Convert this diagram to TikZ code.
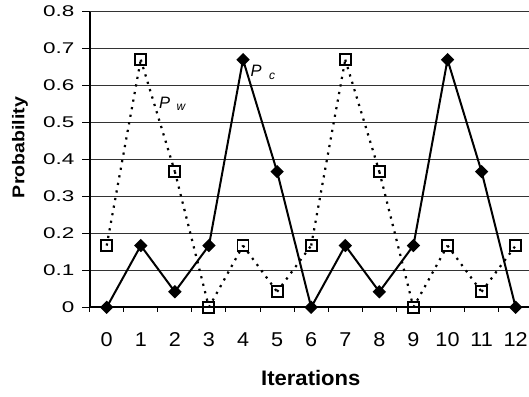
\documentclass[tikz,border=0pt]{standalone}
\usepackage{fontspec}
\setmainfont{Liberation Sans}
\newfontfamily\tickyfont[FakeStretch=1.45]{Liberation Sans}
\newfontfamily\tickxfont[FakeStretch=1.08]{Liberation Sans}
\newfontfamily\xtitlefont[FakeStretch=1.05]{Liberation Sans}
\newfontfamily\ytitlefont[FakeStretch=1.15]{Liberation Sans}
\usetikzlibrary{
    shapes.geometric,
    positioning
}

\begin{document}
\begin{tikzpicture}[x=1pt, y=1pt,
    gridline/.style={black!80, line width=1pt},
    axisline/.style={black, line width=2.2pt},
    cline/.style={black, line width=2pt},
    wline/.style={black, line width=2.2pt, dash pattern=on 2.2pt off 5.5pt},
    cmark/.style={diamond, fill=black, inner sep=0pt, minimum size=13.5pt},
    wmark/.style={draw=black, line width=1.9pt, inner sep=0pt, minimum size=11pt},
    ylab/.style={anchor=east, inner sep=0pt, font=\tickyfont\fontsize{15.5}{16}\selectfont},
    xlab/.style={anchor=base, inner sep=0pt, font=\tickxfont\fontsize{20}{22}\selectfont}]
    \useasboundingbox (0,0) rectangle (529,396);
    \clip (0,0) rectangle (529,396);

    \begin{scope}[shift={(106.7pt,88.7pt)}, x=34.08pt, y=369.6pt]
        % grid and axes
        \foreach \v in {0.1,0.2,0.3,0.4,0.5,0.6,0.7,0.8}
            \draw[gridline] (-0.5,\v) -- (12.7,\v);
        \foreach \v in {0,0.1,0.2,0.3,0.4,0.5,0.6,0.7,0.8}
            \draw[black, line width=1pt] (-0.5,\v) -- ++(-8pt,0);
        \foreach \k in {-0.5,0.5,...,12.5}
            \draw[black, line width=1pt] (\k,0) -- ++(0,-5pt);
        \draw[axisline] (-0.5,0) -- (12.7,0);
        \draw[axisline] (-0.5,0) -- (-0.5,0.8);

        % tick labels
        \foreach \v [count=\k from 0] in {0,0.1,0.2,0.3,0.4,0.5,0.6,0.7,0.8}
            \node[ylab, xshift=-15pt] (ytick\k) at (-0.5,\v) {\v};
        \foreach \i in {0,...,12}
            \node[xlab, yshift=-39.4pt] (xtick\i) at (\i,0) {\i};

        % P_w
        \foreach \v [count=\i from 0] in {0.167,0.67,0.367,0,0.167,0.042,0.167,0.67,0.367,0,0.167,0.042,0.167}
            \node[wmark] (w\i) at (\i,\v) {};
        \foreach \i [count=\j from 1] in {0,...,11}
            \draw[wline] (w\i.center) -- (w\j.center);

        % P_c
        \foreach \v [count=\i from 0] in {0,0.167,0.042,0.167,0.67,0.367,0,0.167,0.042,0.167,0.67,0.367,0}
            \coordinate (c\i) at (\i,\v);
        \foreach \i [count=\j from 1] in {0,...,11}
            \draw[cline] (c\i) -- (c\j);
        \foreach \i in {0,...,12}
            \node[cmark] (cm\i) at (c\i) {};
    \end{scope}

    % series labels
    \node[anchor=west, inner sep=0pt, font=\itshape\fontsize{16.5}{18}\selectfont] (pw) at (159,293.5) {P};
    \node[right=6pt of pw, yshift=-4.8pt, inner sep=0pt, font=\itshape\fontsize{12}{14}\selectfont] (pwsub) {w};
    \node[anchor=west, inner sep=0pt, font=\itshape\fontsize{16.5}{18}\selectfont] (pc) at (250.5,325.2) {P};
    \node[right=7pt of pc, yshift=-5.4pt, inner sep=0pt, font=\itshape\fontsize{12}{14}\selectfont] (pcsub) {c};

    % axis titles
    \node[rotate=90, font=\ytitlefont\bfseries\fontsize{17}{19}\selectfont] (ytitle) at (20,248.5) {Probability};
    \node[font=\xtitlefont\bfseries\fontsize{21}{24}\selectfont] (xtitle) at (310.8,18) {Iterations};
\end{tikzpicture}
\end{document}
